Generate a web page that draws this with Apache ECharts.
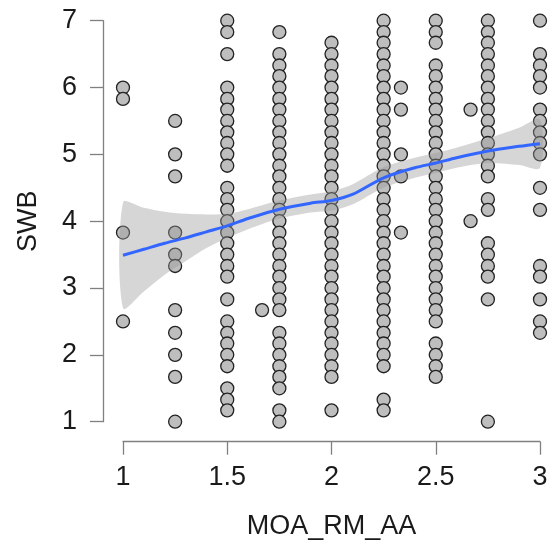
<!DOCTYPE html>
<html>
<head>
<meta charset="utf-8">
<script src="https://cdn.jsdelivr.net/npm/echarts@6/dist/echarts.min.js"></script>
<style>
  html, body { margin: 0; padding: 0; background: #fff; }
  #chart { width: 552px; height: 550px; }
</style>
</head>
<body>
<div id="chart"></div>
<script>
// SWB values observed at each MOA_RM_AA level
var swbAt100 = [6, 5.83, 3.83, 2.5];
var swbAt125 = [5.5, 5, 4.67, 3.83, 3.5, 3.33, 2.67, 2.33, 2, 1.67, 1];
var swbAt150 = [7, 6.83, 6.5, 6, 5.83, 5.67, 5.5, 5.33, 5.17, 5, 4.83, 4.5, 4.33, 4.17, 4, 3.83, 3.67, 3.5, 3.33, 3.17,
    2.83, 2.5, 2.33, 2.17, 2, 1.83, 1.5, 1.33, 1.17];
var swbAt167 = [2.67];
var swbAt175 = [6.83, 6.5, 6.33, 6.17, 6, 5.83, 5.67, 5.5, 5.33, 5.17, 5, 4.83, 4.67, 4.5, 4.33, 4.17, 4, 3.83, 3.67, 3.5,
    3.33, 3.17, 3, 2.83, 2.67, 2.33, 2.17, 2, 1.83, 1.67, 1.5, 1.17, 1];
var swbAt200 = [6.67, 6.5, 6.33, 6.17, 6, 5.83, 5.67, 5.5, 5.33, 5.17, 5, 4.83, 4.67, 4.5, 4.33, 4.17, 4, 3.83, 3.67, 3.5,
    3.33, 3.17, 3, 2.83, 2.67, 2.5, 2.33, 2.17, 2, 1.83, 1.67, 1.17];
var swbAt225 = [7, 6.83, 6.67, 6.5, 6.33, 6.17, 6, 5.83, 5.67, 5.5, 5.33, 5.17, 5, 4.83, 4.67, 4.5, 4.33, 4.17, 4, 3.83,
    3.67, 3.5, 3.33, 3.17, 3, 2.83, 2.67, 2.5, 2.33, 2.17, 2, 1.83, 1.33, 1.17];
var swbAt233 = [6, 5.67, 5, 4.67, 3.83];
var swbAt250 = [7, 6.83, 6.67, 6.33, 6.17, 6, 5.83, 5.67, 5.5, 5.33, 5.17, 5, 4.83, 4.67, 4.5, 4.33, 4.17, 4, 3.83, 3.67,
    3.5, 3.33, 3.17, 3, 2.83, 2.67, 2.5, 2.17, 2, 1.83, 1.67];
var swbAt267 = [5.67, 4];
var swbAt275 = [7, 6.83, 6.67, 6.5, 6.33, 6.17, 6, 5.83, 5.67, 5.5, 5.33, 5.17, 5, 4.83, 4.67, 4.33, 4.17, 3.67, 3.5, 3.33,
    3.17, 2.83, 1];
var swbAt300 = [7, 6.5, 6.33, 6.17, 6, 5.67, 5.5, 5.33, 5.17, 5, 4.5, 4.17, 3.33, 3.17, 2.83, 2.5, 2.33];

var moaLevels = [1, 1.25, 1.5, 1.667, 1.75, 2, 2.25, 2.333, 2.5, 2.667, 2.75, 3];
var swbColumns = [swbAt100, swbAt125, swbAt150, swbAt167, swbAt175, swbAt200, swbAt225, swbAt233, swbAt250, swbAt267,
    swbAt275, swbAt300];

// loess fit and its confidence band
var fitX = [1, 1.1, 1.2, 1.3, 1.4, 1.5, 1.6, 1.75, 1.9, 2, 2.1, 2.25, 2.4, 2.5, 2.6, 2.75, 2.9, 3];
var fitY = [3.49, 3.58, 3.67, 3.75, 3.84, 3.93, 4.04, 4.18, 4.27, 4.31, 4.40, 4.65, 4.80, 4.87, 4.95, 5.05, 5.12, 5.16];
var fitUpper = [4.28, 4.2, 4.14, 4.11, 4.1, 4.11, 4.18, 4.31, 4.40, 4.45, 4.55, 4.81, 4.95, 5.02, 5.1, 5.24, 5.4, 5.52];
var fitLower = [2.70, 2.95, 3.2, 3.4, 3.6, 3.75, 3.88, 4.04, 4.13, 4.16, 4.25, 4.5, 4.65, 4.72, 4.8, 4.87, 4.84, 4.8];

var xTicks = [1, 1.5, 2, 2.5, 3];
var yTicks = [1, 2, 3, 4, 5, 6, 7];

var font = '"Liberation Sans", Arial, Helvetica, sans-serif';
var axisGray = '#808080';

var points = [];
for (var i = 0; i < moaLevels.length; i++) {
    for (var j = 0; j < swbColumns[i].length; j++) {
        points.push([moaLevels[i], swbColumns[i][j]]);
    }
}

var fitLine = [];
for (var k = 0; k < fitX.length; k++) {
    fitLine.push([fitX[k], fitY[k]]);
}

var chart = echarts.init(document.getElementById('chart'), null, { renderer: 'canvas' });

chart.setOption({
    animation: false,
    backgroundColor: '#fff',
    grid: {
        left: 123,
        right: 12,
        top: 20.7,
        bottom: 128.3,
        containLabel: false
    },
    xAxis: {
        type: 'value',
        min: xTicks[0],
        max: xTicks[xTicks.length - 1],
        interval: 0.5,
        offset: 20,
        name: 'MOA_RM_AA',
        nameLocation: 'middle',
        nameGap: 71,
        nameTextStyle: { fontSize: 27, color: '#1a1a1a', fontFamily: font },
        splitLine: { show: false },
        axisLine: { show: true, lineStyle: { color: axisGray, width: 1.3 } },
        axisTick: { show: true, length: 13, lineStyle: { color: axisGray, width: 1.3 } },
        axisLabel: { margin: 22, fontSize: 27, color: '#1a1a1a', fontFamily: font }
    },
    yAxis: {
        type: 'value',
        min: yTicks[0],
        max: yTicks[yTicks.length - 1],
        interval: 1,
        offset: 20,
        name: 'SWB',
        nameLocation: 'middle',
        nameGap: 61,
        nameRotate: 90,
        nameTextStyle: { fontSize: 27, color: '#1a1a1a', fontFamily: font },
        splitLine: { show: false },
        axisLine: { show: true, lineStyle: { color: axisGray, width: 1.3 } },
        axisTick: { show: true, length: 13, lineStyle: { color: axisGray, width: 1.3 } },
        axisLabel: { margin: 26, fontSize: 27, color: '#1a1a1a', fontFamily: font }
    },
    series: [{
        type: 'scatter',
        data: points,
        symbol: 'circle',
        symbolSize: 13,
        clip: false,
        z: 2,
        itemStyle: { color: '#bebebe', borderColor: '#222', borderWidth: 1.3, opacity: 1 }
    }, {
        // confidence band as one polygon
        type: 'custom',
        data: [[fitX[0], fitY[0]]],
        clip: false,
        z: 3,
        silent: true,
        renderItem: function (params, api) {
            var pts = [];
            for (var a = 0; a < fitX.length; a++) {
                pts.push(api.coord([fitX[a], fitUpper[a]]));
            }
            for (var b = fitX.length - 1; b >= 0; b--) {
                pts.push(api.coord([fitX[b], fitLower[b]]));
            }
            return {
                type: 'polygon',
                shape: { points: pts, smooth: 0.3 },
                style: { fill: 'rgba(153,153,153,0.4)', stroke: null }
            };
        }
    }, {
        type: 'line',
        data: fitLine,
        smooth: 0.3,
        showSymbol: false,
        clip: false,
        z: 4,
        lineStyle: { color: '#3366FF', width: 3 }
    }]
});
</script>
</body>
</html>
